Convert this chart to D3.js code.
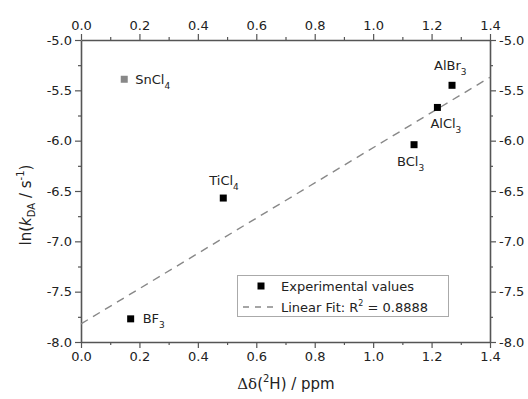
<!DOCTYPE html>
<html>
<head>
<meta charset="utf-8">
<script src="https://cdn.jsdelivr.net/npm/d3@7"></script>
<style>
  body { margin: 0; background: #fff; }
  text { font-family: "DejaVu Sans", sans-serif; fill: #222; }
</style>
</head>
<body>
<div id="chart"></div>
<script>
// data
const compounds = ["SnCl4", "TiCl4", "AlBr3", "AlCl3", "BCl3", "BF3"];
const deltaH = [0.148, 0.487, 1.27, 1.22, 1.14, 0.17];
const lnK = [-5.39, -6.57, -5.45, -5.67, -6.04, -7.77];
const excluded = [true, false, false, false, false, false];
// label placement (px offset from the point)
const labelDx = [11, -14, -18, -7, -17, 12];
const labelDy = [5, -13, -15, 21, 21, 4];
const fitIntercept = -7.82;
const fitSlope = 1.75;
const xTicks = [0, 0.2, 0.4, 0.6, 0.8, 1.0, 1.2, 1.4];
const yTicks = [-5.0, -5.5, -6.0, -6.5, -7.0, -7.5, -8.0];

const width = 528;
const height = 399;
const margin = { top: 40, right: 38, bottom: 57, left: 81 };

const svg = d3
  .select("#chart")
  .append("svg")
  .attr("width", width)
  .attr("height", height);

const x = d3.scaleLinear().domain([0, 1.4]).range([margin.left, width - margin.right]);
const y = d3.scaleLinear().domain([-8, -5]).range([height - margin.bottom, margin.top]);

const axisColor = "#555";
// plain hyphen for negatives, like the original
const fmt = (v) => d3.format(".1f")(v).replace("\u2212", "-");

function styleAxis(g) {
  g.selectAll("path").attr("stroke", axisColor).attr("stroke-width", 1.6);
  g.selectAll("line").attr("stroke", axisColor).attr("stroke-width", 1.2);
  g.selectAll("text").style("font-size", "13px").attr("fill", "#222");
}

const xMinor = d3.range(0.1, 1.4, 0.2);
const yMinor = d3.range(-7.75, -5, 0.5);

// minor ticks first, then major axes on top
const minorGroups = [
  [d3.axisBottom(x), height - margin.bottom, 0, xMinor],
  [d3.axisTop(x), margin.top, 0, xMinor],
  [d3.axisLeft(y), 0, margin.left, yMinor],
  [d3.axisRight(y), 0, width - margin.right, yMinor]
];
minorGroups.forEach(([ax, ty, tx, vals]) => {
  const g = svg
    .append("g")
    .attr("transform", `translate(${tx},${ty})`)
    .call(ax.tickValues(vals).tickSize(3).tickFormat(""));
  g.select("path").remove();
  g.selectAll("line").attr("stroke", axisColor).attr("stroke-width", 1.2);
});

svg
  .append("g")
  .attr("transform", `translate(0,${height - margin.bottom})`)
  .call(d3.axisBottom(x).tickValues(xTicks).tickSize(6).tickSizeOuter(0).tickPadding(4).tickFormat(fmt))
  .call(styleAxis);

svg
  .append("g")
  .attr("transform", `translate(0,${margin.top})`)
  .call(d3.axisTop(x).tickValues(xTicks).tickSize(6).tickSizeOuter(0).tickPadding(4).tickFormat(fmt))
  .call(styleAxis);

svg
  .append("g")
  .attr("transform", `translate(${margin.left},0)`)
  .call(d3.axisLeft(y).tickValues(yTicks).tickSize(6).tickSizeOuter(0).tickPadding(3).tickFormat(fmt))
  .call(styleAxis);

svg
  .append("g")
  .attr("transform", `translate(${width - margin.right},0)`)
  .call(d3.axisRight(y).tickValues(yTicks).tickSize(6).tickSizeOuter(0).tickPadding(3).tickFormat(fmt))
  .call(styleAxis);

// linear fit
svg
  .append("line")
  .attr("x1", x(0))
  .attr("y1", y(fitIntercept))
  .attr("x2", x(1.4))
  .attr("y2", y(fitIntercept + fitSlope * 1.4))
  .attr("stroke", "#888")
  .attr("stroke-width", 1.4)
  .attr("stroke-dasharray", "8,6");

const points = compounds.map((c, i) => ({
  name: c,
  dx: deltaH[i],
  lk: lnK[i],
  gray: excluded[i],
  ox: labelDx[i],
  oy: labelDy[i]
}));

svg
  .selectAll(".pt")
  .data(points)
  .enter()
  .append("rect")
  .attr("class", "pt")
  .attr("x", (d) => x(d.dx) - 3.5)
  .attr("y", (d) => y(d.lk) - 3.5)
  .attr("width", 7)
  .attr("height", 7)
  .attr("fill", (d) => (d.gray ? "#888" : "#000"));

// compound labels with subscript count
const labels = svg
  .selectAll(".lbl")
  .data(points)
  .enter()
  .append("text")
  .attr("class", "lbl")
  .attr("x", (d) => x(d.dx) + d.ox)
  .attr("y", (d) => y(d.lk) + d.oy)
  .style("font-size", "13px");
labels.append("tspan").text((d) => d.name.slice(0, -1));
labels
  .append("tspan")
  .attr("dy", 5)
  .style("font-size", "9px")
  .text((d) => d.name.slice(-1));

// legend
const lg = svg.append("g");
lg.append("rect")
  .attr("x", 237.5)
  .attr("y", 275.5)
  .attr("width", 211)
  .attr("height", 41)
  .attr("fill", "#fff")
  .attr("stroke", "#aaa")
  .attr("stroke-width", 1);
lg.append("rect").attr("x", 257.5).attr("y", 282.5).attr("width", 7).attr("height", 7).attr("fill", "#000");
lg.append("text").attr("x", 281).attr("y", 291).style("font-size", "13px").text("Experimental values");
lg.append("line")
  .attr("x1", 243)
  .attr("x2", 278)
  .attr("y1", 307)
  .attr("y2", 307)
  .attr("stroke", "#888")
  .attr("stroke-width", 1.4)
  .attr("stroke-dasharray", "6,6");
const fitText = lg.append("text").attr("x", 281).attr("y", 312).style("font-size", "13px");
fitText.append("tspan").text("Linear Fit: R");
fitText.append("tspan").attr("dy", -6).style("font-size", "8px").text("2");
fitText.append("tspan").attr("dy", 6).text(" = 0.8888");

// axis titles
const xt = svg
  .append("text")
  .attr("x", 286)
  .attr("y", 389)
  .attr("text-anchor", "middle")
  .style("font-size", "15px");
xt.append("tspan").style("font-family", "'DejaVu Serif', serif").text("Δδ");
xt.append("tspan").text("(");
xt.append("tspan").attr("dy", -7).style("font-size", "10px").text("2");
xt.append("tspan").attr("dy", 7).text("H) / ppm");

const yt = svg
  .append("text")
  .attr("transform", "translate(31,205) rotate(-90)")
  .attr("text-anchor", "middle")
  .style("font-size", "15px");
yt.append("tspan").text("ln(");
yt.append("tspan").style("font-style", "italic").text("k");
yt.append("tspan").attr("dy", 4).style("font-size", "10px").text("DA");
yt.append("tspan").attr("dy", -4).text(" / s");
yt.append("tspan").attr("dy", -7).style("font-size", "10px").text("-1");
yt.append("tspan").attr("dy", 7).text(")");
</script>
</body>
</html>
